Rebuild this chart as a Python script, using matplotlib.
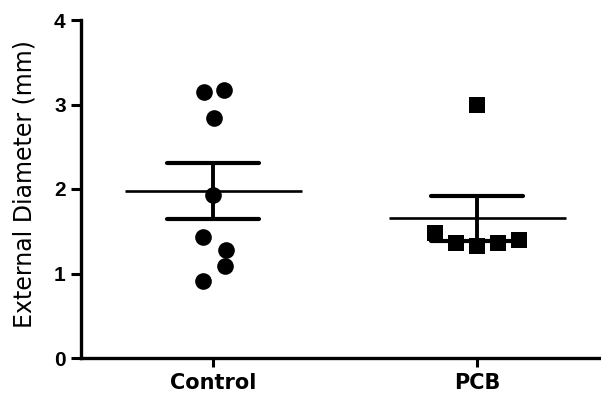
import numpy as np
import matplotlib
matplotlib.use("Agg")
import matplotlib.pyplot as plt

groups = ["Control", "PCB"]
control_values = [3.15, 3.17, 2.84, 1.93, 1.43, 1.28, 1.09, 0.91]
control_jitter = [-0.033, 0.043, 0.005, 0.0, -0.037, 0.05, 0.047, -0.037]
pcb_values = [2.99, 1.48, 1.36, 1.32, 1.36, 1.40]
pcb_jitter = [0.0, -0.16, -0.08, 0.0, 0.08, 0.16]
y_ticks = [0, 1, 2, 3, 4]
y_label = "External Diameter (mm)"

fig = plt.figure(figsize=(6.01, 4.01), dpi=100)
ax = fig.add_axes([81/601, 43/401, 520/601, 338/401])

series = [(control_values, control_jitter, "o"), (pcb_values, pcb_jitter, "s")]
for i, (vals, jit, mk) in enumerate(series):
    vals = np.array(vals)
    xs = i + np.array(jit)
    ax.plot(xs, vals, linestyle="none", marker=mk, markersize=12 if mk == "o" else 11.5,
            color="black", markeredgewidth=0, zorder=4, clip_on=False)
    m = vals.mean()
    sem = vals.std(ddof=1) / np.sqrt(len(vals))
    ax.plot([i - 0.335, i + 0.335], [m, m], color="black", lw=1.9, zorder=3,
            solid_capstyle="butt")
    ax.plot([i, i], [m - sem, m + sem], color="black", lw=2.8, zorder=3)
    for yv in (m - sem, m + sem):
        ax.plot([i - 0.174, i + 0.174], [yv, yv], color="black", lw=3.0, zorder=3,
                solid_capstyle="round")

ax.set_xlim(-0.5, 1.469)
ax.set_ylim(0, 4)
ax.set_xticks(range(len(groups)))
ax.set_xticklabels(groups, fontfamily="DejaVu Sans", fontweight="bold", fontsize=15)
ax.set_yticks(y_ticks)
ax.set_yticklabels([str(t) for t in y_ticks], fontfamily="Liberation Sans",
                   fontweight="bold", fontsize=15)
ax.tick_params(axis="y", length=7.5, width=2.2, pad=3.5)
ax.tick_params(axis="x", length=6.5, width=2.2, pad=4.0)
for s in ("top", "right"):
    ax.spines[s].set_visible(False)
for s in ("left", "bottom"):
    ax.spines[s].set_linewidth(2.4)
ax.set_ylabel(y_label, fontfamily="DejaVu Sans", fontsize=17)
ax.yaxis.set_label_coords(-0.085, 0.515)

fig.savefig("out.png", dpi=100)
